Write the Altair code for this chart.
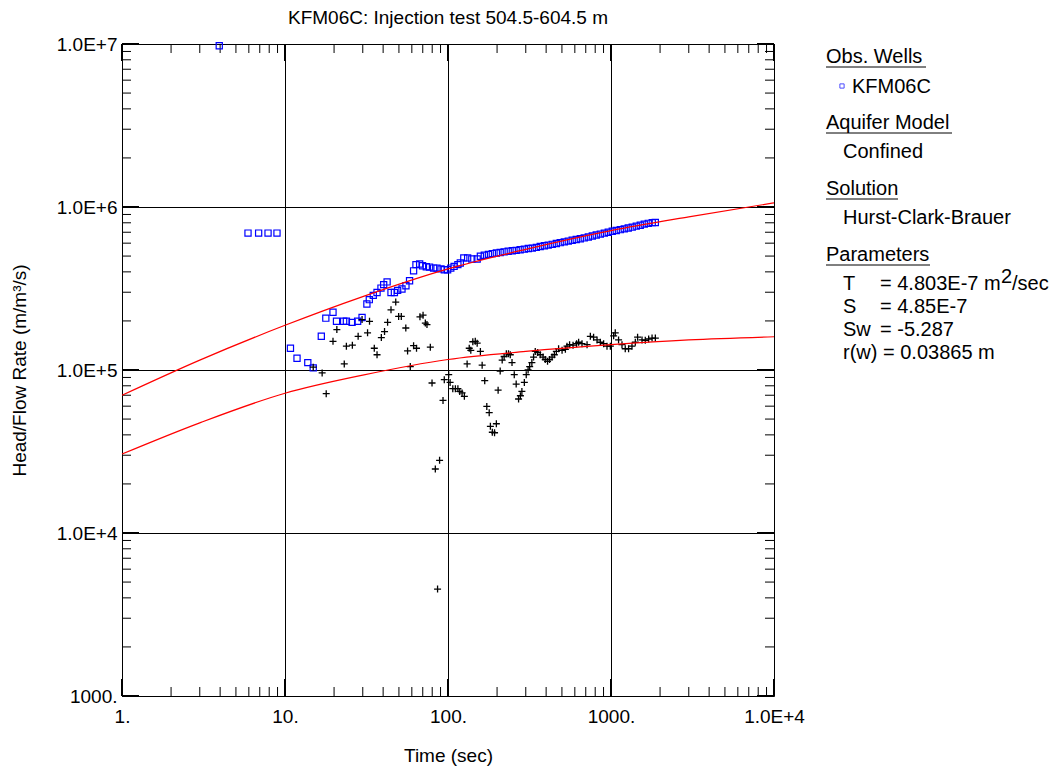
import altair as alt
import pandas as pd

W, H = 652, 652
PAD_L, PAD_T = 122, 44
FONT = "Liberation Sans"

# ---------------- data ----------------
blue_t = [3.95, 5.93, 6.89, 7.87, 8.93, 10.8, 11.85, 13.8, 14.9, 16.7, 17.8, 19.7, 20.7, 22.9, 23.8,
          25.8, 27.9, 29.7, 31.8, 32.9, 34.8, 36.7, 38.8, 40.3, 42.3, 44.7, 46.9, 49.1, 52.2, 55.2,
          58.1, 61.5, 63.6, 67.0, 69.8, 73.6, 77.1, 81.6, 85.6, 90.6, 94.9, 99.5, 104, 109, 115,
          119, 125, 132, 140, 151,
          158, 167, 177, 187, 198, 209, 221, 234, 248, 262, 277, 294, 311, 329, 348, 368, 390, 412,
          436, 462, 488, 517, 547, 578, 612, 648, 685, 726, 768, 812, 860, 910, 962, 1018, 1077,
          1140, 1206, 1276, 1350, 1429, 1512, 1600, 1693, 1791, 1870]
blue_v = [9.76e6, 6.92e5, 6.92e5, 6.92e5, 6.92e5, 1.36e5, 1.18e5, 1.11e5, 1.03e5, 1.61e5, 2.08e5,
          2.26e5, 1.99e5, 1.99e5, 1.99e5, 1.96e5, 1.99e5, 2.10e5, 2.54e5, 2.70e5, 2.87e5, 2.99e5,
          3.18e5, 3.34e5, 3.47e5, 2.99e5, 2.99e5, 3.08e5, 3.14e5, 3.29e5, 3.53e5, 4.06e5, 4.43e5,
          4.47e5, 4.36e5, 4.30e5, 4.28e5, 4.22e5, 4.22e5, 4.17e5, 4.12e5, 4.12e5, 4.22e5, 4.32e5,
          4.43e5, 4.53e5, 4.87e5, 4.87e5, 4.80e5, 4.80e5,
          4.99e5, 5.06e5, 5.12e5, 5.18e5, 5.22e5, 5.26e5, 5.31e5, 5.35e5, 5.39e5, 5.42e5,
          5.47e5, 5.51e5, 5.56e5, 5.59e5, 5.65e5, 5.72e5, 5.78e5, 5.84e5, 5.90e5, 5.97e5,
          6.04e5, 6.11e5, 6.18e5, 6.25e5, 6.32e5, 6.39e5, 6.46e5, 6.55e5, 6.64e5, 6.73e5,
          6.82e5, 6.91e5, 7.00e5, 7.10e5, 7.18e5, 7.26e5, 7.34e5, 7.43e5, 7.52e5, 7.63e5,
          7.73e5, 7.85e5, 7.94e5, 8.02e5, 8.04e5]

cross_t = [14.9, 16.9, 17.9, 19.7, 20.8, 23.1, 23.8, 25.9, 28.1, 29.7,
           32.1, 33.0, 35.3, 36.7, 39.0, 40.8, 42.6, 44.7, 47.8, 49.8,
           51.7, 55.1, 56.5, 58.7, 61.5, 64.1, 67.3, 70.3, 72.6, 74.3,
           77.9, 79.8, 83.6, 86.3, 88.8, 93.2, 94.9, 101, 103, 107,
           111, 115, 118, 122, 126, 131, 135, 138, 142, 147,
           151, 158, 162, 168, 173, 179, 182, 187, 193, 198,
           203, 209, 215, 221, 228, 235, 241, 247, 255, 262,
           271, 278, 284, 294, 302, 310, 317, 327, 335, 343,
           355, 368, 383, 395, 408, 420, 435, 449, 462, 477,
           501, 525, 537, 557, 585, 615, 633, 664, 713, 747,
           782, 821, 860, 901, 945, 991, 1038, 1062, 1113, 1168,
           1223, 1282, 1345, 1410, 1456, 1550, 1623, 1702, 1786, 1871]
cross_v = [1.04e5, 9.59e4, 7.16e4, 1.50e5, 1.77e5, 1.09e5, 1.40e5, 1.42e5, 1.61e5, 2.04e5,
           1.69e5, 1.99e5, 1.36e5, 1.24e5, 1.58e5, 1.72e5, 1.96e5, 2.34e5, 2.61e5, 2.13e5,
           2.13e5, 1.81e5, 1.31e5, 1.05e5, 1.41e5, 1.36e5, 2.12e5, 2.17e5, 1.94e5, 1.90e5,
           1.38e5, 8.32e4, 2.47e4, 4.53e3, 2.79e4, 6.51e4, 8.72e4, 9.36e4, 8.39e4, 7.68e4,
           7.68e4, 7.68e4, 7.39e4, 7.23e4, 6.89e4, 1.09e5, 1.36e5, 1.32e5, 1.49e5, 1.50e5,
           1.46e5, 1.30e5, 1.07e5, 8.60e4, 5.98e4, 5.47e4, 4.51e4, 4.15e4, 4.12e4, 4.68e4,
           7.52e4, 9.86e4, 1.15e5, 1.21e5, 1.26e5, 1.26e5, 1.24e5, 1.11e5, 9.36e4, 8.20e4,
           6.64e4, 6.95e4, 7.39e4, 8.39e4, 9.36e4, 1.00e5, 1.05e5, 1.11e5, 1.20e5, 1.30e5,
           1.28e5, 1.24e5, 1.20e5, 1.16e5, 1.13e5, 1.16e5, 1.20e5, 1.24e5, 1.30e5, 1.35e5,
           1.32e5, 1.34e5, 1.40e5, 1.43e5, 1.42e5, 1.45e5, 1.48e5, 1.45e5, 1.43e5, 1.61e5,
           1.59e5, 1.53e5, 1.48e5, 1.45e5, 1.40e5, 1.40e5, 1.62e5, 1.69e5, 1.53e5, 1.43e5,
           1.35e5, 1.35e5, 1.40e5, 1.48e5, 1.59e5, 1.53e5, 1.52e5, 1.55e5, 1.57e5, 1.57e5]

curve_t = [1, 3, 10, 30, 100, 300, 1000, 3000, 10000]
curve_upper = [7.0e4, 1.15e5, 1.88e5, 2.82e5, 4.17e5, 5.5e5, 7.16e5, 8.7e5, 1.06e6]
curve_lower = [3.05e4, 4.74e4, 7.2e4, 9.3e4, 1.16e5, 1.30e5, 1.43e5, 1.53e5, 1.60e5]

x_decades = [1, 10, 100, 1000, 10000]
y_decades = [1000, 10000, 100000, 1000000, 10000000]
x_minor = [m * d for d in [1, 10, 100, 1000] for m in range(2, 10)]
y_minor = [m * d for d in [1000, 10000, 100000, 1000000] for m in range(2, 10)]

title_text = "KFM06C: Injection test 504.5-604.5 m"

# ---------------- scales / axes ----------------
xs = alt.Scale(type="log", domain=[1, 10000], nice=False)
ys = alt.Scale(type="log", domain=[1000, 10000000], nice=False)

x_axis = alt.Axis(
    values=x_decades,
    labelExpr="datum.value == 1 ? '1.' : datum.value == 10 ? '10.' : datum.value == 100 ? '100.' : datum.value == 1000 ? '1000.' : '1.0E+4'",
    grid=True, gridColor="black", gridOpacity=1, gridWidth=1,
    ticks=False, domain=False, labelFlush=False, labelOverlap=False, labelBound=False,
    labelFont=FONT, labelFontSize=19, labelColor="black", labelPadding=11,
    title="Time (sec)", titleFont=FONT, titleFontSize=19, titleFontWeight="normal",
    titleColor="black", titlePadding=20,
)
y_axis = alt.Axis(
    values=y_decades,
    labelExpr="datum.value == 1000 ? '1000.' : datum.value == 10000 ? '1.0E+4' : datum.value == 100000 ? '1.0E+5' : datum.value == 1000000 ? '1.0E+6' : '1.0E+7'",
    grid=True, gridColor="black", gridOpacity=1, gridWidth=1,
    ticks=False, domain=False, labelFlush=False, labelOverlap=False, labelBound=False,
    labelFont=FONT, labelFontSize=19, labelColor="black", labelPadding=5,
    title="Head/Flow Rate (m/m³/s)", titleFont=FONT, titleFontSize=19, titleFontWeight="normal",
    titleColor="black", titlePadding=27,
)

def X():
    return alt.X("t:Q", scale=xs, axis=x_axis)

def Y():
    return alt.Y("v:Q", scale=ys, axis=y_axis)

blue_df = pd.DataFrame({"t": blue_t, "v": blue_v})
cross_df = pd.DataFrame({"t": cross_t, "v": cross_v})
upper_df = pd.DataFrame({"t": curve_t, "v": curve_upper})
lower_df = pd.DataFrame({"t": curve_t, "v": curve_lower})

squares = alt.Chart(blue_df).mark_point(
    shape="square", filled=False, color="#0000ff", size=38, strokeWidth=1.2, opacity=1
).encode(x=X(), y=Y())

crosses = alt.Chart(cross_df).mark_point(
    shape="M-1,0L1,0M0,-1L0,1", filled=False, color="black", size=49, strokeWidth=1.3, opacity=1
).encode(x=X(), y=Y())

upper_line = alt.Chart(upper_df).mark_line(color="#ff0000", strokeWidth=1.2, interpolate="monotone").encode(x=X(), y=Y())
lower_line = alt.Chart(lower_df).mark_line(color="#ff0000", strokeWidth=1.2, interpolate="monotone").encode(x=X(), y=Y())

# inward ticks on all four sides
xmin_df = pd.DataFrame({"t": x_minor})
ymin_df = pd.DataFrame({"v": y_minor})
xmaj_df = pd.DataFrame({"t": x_decades})
ymaj_df = pd.DataFrame({"v": y_decades})

tick_layers = []
for df, length, sw in [(xmin_df, 9, 1), (xmaj_df, 17, 2)]:
    tick_layers.append(alt.Chart(df).mark_rule(color="black", strokeWidth=sw).encode(
        x=X(), y=alt.value(H), y2=alt.value(H - length)))
    tick_layers.append(alt.Chart(df).mark_rule(color="black", strokeWidth=sw).encode(
        x=X(), y=alt.value(0), y2=alt.value(length)))
for df, length, sw in [(ymin_df, 9, 1), (ymaj_df, 17, 2)]:
    tick_layers.append(alt.Chart(df).mark_rule(color="black", strokeWidth=sw).encode(
        y=Y(), x=alt.value(0), x2=alt.value(length)))
    tick_layers.append(alt.Chart(df).mark_rule(color="black", strokeWidth=sw).encode(
        y=Y(), x=alt.value(W), x2=alt.value(W - length)))

# ---------------- legend panel (right side) ----------------
one = pd.DataFrame({"a": [0]})

def txt(s, x, y, size=20):
    return alt.Chart(one).mark_text(
        align="left", baseline="alphabetic", font=FONT, fontSize=size, color="black"
    ).encode(x=alt.value(x - PAD_L), y=alt.value(y - PAD_T), text=alt.value(s))

def uline(x1, x2, y):
    return alt.Chart(one).mark_rule(color="black", strokeWidth=1).encode(
        x=alt.value(x1 - PAD_L), x2=alt.value(x2 - PAD_L), y=alt.value(y - PAD_T))

legend_layers = [
    txt("Obs. Wells", 826, 63), uline(826, 926, 67),
    alt.Chart(one).mark_point(shape="square", filled=False, color="#0000ff", size=18, strokeWidth=1).encode(
        x=alt.value(842 - PAD_L), y=alt.value(86 - PAD_T)),
    txt("KFM06C", 852, 93),
    txt("Aquifer Model", 826, 129), uline(826, 952, 133),
    txt("Confined", 843, 158),
    txt("Solution", 826, 195), uline(826, 898, 199),
    txt("Hurst-Clark-Brauer", 843, 224),
    txt("Parameters", 826, 261), uline(826, 930, 265),
    txt("T", 843, 290), txt("= 4.803E-7 m", 880, 290), txt("2", 1001, 283), txt("/sec", 1012, 290),
    txt("S", 843, 313), txt("= 4.85E-7", 880, 313),
    txt("Sw", 843, 336), txt("= -5.287", 880, 336),
    txt("r(w) = 0.03865 m", 843, 359),
]

chart = alt.layer(
    *tick_layers, squares, crosses, upper_line, lower_line, *legend_layers
).properties(
    width=W, height=H,
    padding={"left": PAD_L, "top": PAD_T, "right": 1058 - PAD_L - W, "bottom": 767 - PAD_T - H},
    autosize=alt.AutoSizeParams(type="none"),
    title=alt.TitleParams(text=title_text, font=FONT, fontSize=19, fontWeight="normal",
                          color="black", anchor="middle", offset=7),
).configure_view(stroke="black", strokeWidth=1).configure(background="white")

chart.save("out.html", embed_options={"renderer": "svg", "actions": False})
